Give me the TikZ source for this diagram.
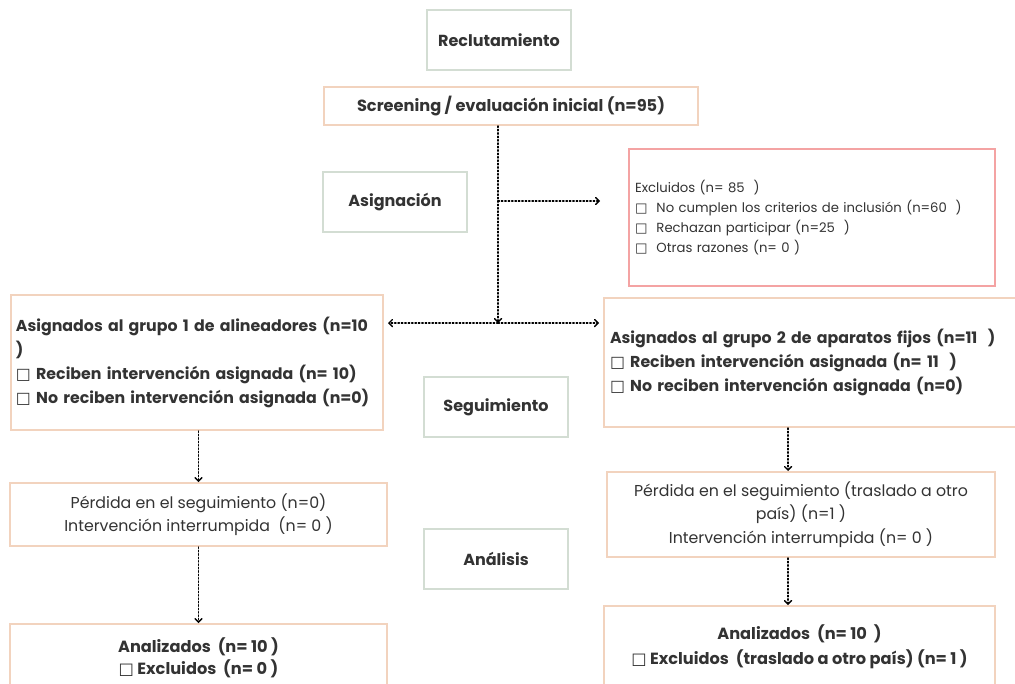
\documentclass[tikz,border=0pt]{standalone}
\usepackage{fontspec}
\setmainfont{Poppins}
\newfontfamily\symf{DejaVu Sans}
\usetikzlibrary{arrows.meta}
\definecolor{grn}{HTML}{D3DDD3}
\definecolor{pch}{HTML}{F2D3BE}
\definecolor{pnk}{HTML}{F4A3A3}
\definecolor{txt}{HTML}{333333}
\newcommand{\sqb}{{\symf □}}
\begin{document}
\begin{tikzpicture}[x=1pt,y=-1pt,
  stage/.style={draw=grn, line width=2pt, text=txt, inner sep=0pt,
    minimum width=144pt, minimum height=60pt,
    font=\bfseries\fontsize{16}{18}\selectfont},
  pbox/.style={draw=pch, line width=2pt, text=txt, inner sep=0pt},
  boldtxt/.style={font=\bfseries\fontsize{15.8}{24}\selectfont},
  bigbold/.style={font=\bfseries\fontsize{16.2}{24}\selectfont},
  regtxt/.style={font=\fontsize{15.8}{23.5}\selectfont},
  flow/.style={dotted, line width=1.4pt, line cap=round,
    -{Straight Barb[length=3.5pt,width=7pt,line cap=round]}}]
\useasboundingbox (0,0) rectangle (1015,683);
\fill[white] (0,0) rectangle (1015,683);

\node[stage] (recl) at (499,40) {Reclutamiento};
\node[pbox, bigbold, minimum width=374pt, minimum height=38pt] (screen) at (511,106)
  {Screening / evaluación inicial (n=95)};
\node[stage] (asig) at (395,202) {Asignación};
\node[draw=pnk, line width=2pt, text=txt, inner sep=0pt,
  minimum width=366pt, minimum height=137pt,
  text width=354pt, align=left, font=\fontsize{13.2}{20}\selectfont] (excl) at (812,217.5)
  {Excluidos (n= 85\ \ )\\
   \sqb\hspace{9pt}No cumplen los criterios de inclusión (n=60\ \ )\\
   \sqb\hspace{9pt}Rechazan participar (n=25\ \ )\\
   \sqb\hspace{9pt}Otras razones (n= 0 )};

\node[pbox, boldtxt, minimum width=372pt, minimum height=135pt,
  text width=362pt, align=left] (g1) at (197,362.5)
  {Asignados al grupo 1 de alineadores (n=10\\
   )\\
   \sqb{} Reciben intervención asignada (n= 10)\\
   \sqb{} No reciben intervención asignada (n=0)};
\node[pbox, boldtxt, minimum width=418pt, minimum height=129pt,
  text width=406pt, align=left] (g2) at (813,362.5)
  {Asignados al grupo 2 de aparatos fijos (n=11\ \ )\\
   \sqb{} Reciben intervención asignada (n= 11\ \ )\\
   \sqb{} No reciben intervención asignada (n=0)};

\node[stage] (seg) at (496,407) {Seguimiento};
\node[stage] (anal) at (496,559) {Análisis};

\node[pbox, regtxt, minimum width=377pt, minimum height=63pt, align=center] (p1) at (198.5,514.5)
  {Pérdida en el seguimiento (n=0)\\ Intervención interrumpida\ \ (n= 0 )};
\node[pbox, regtxt, minimum width=388pt, minimum height=85pt, align=center] (p2) at (801,514.5)
  {Pérdida en el seguimiento (traslado a otro\\ país) (n=1 )\\ Intervención interrumpida (n= 0 )};

\node[pbox, bigbold, minimum width=377pt, minimum height=68pt, align=center] (a1) at (198.5,658)
  {Analizados\ \ (n= 10 )\\[-2pt] \sqb{} Excluidos\ \ (n= 0 )};
\node[pbox, bigbold, minimum width=391pt, minimum height=82pt, align=center] (a2) at (799.5,647)
  {Analizados\ \ (n= 10\ \ )\\[1pt] \sqb{} Excluidos\ \ (traslado a otro país) (n= 1 )};

% connectors
\coordinate (j) at (498,323);
\coordinate (e) at (600,201);
\coordinate (c2) at (788,0);
\draw[flow] (screen.south -| j) -- (j);
\draw[flow] (j |- e) -- (e);
\draw[flow] (j) -- ([xshift=4pt]g1.east |- j);
\draw[flow] (j) -- ([xshift=-4pt]g2.west |- j);
\draw[flow] (g1.south -| p1.north) -- (p1.north);
\draw[flow] (p1.south) -- (a1.north);
\draw[flow] (g2.south -| c2) -- (p2.north -| c2);
\draw[flow] (p2.south -| c2) -- (a2.north -| c2);
\end{tikzpicture}
\end{document}
